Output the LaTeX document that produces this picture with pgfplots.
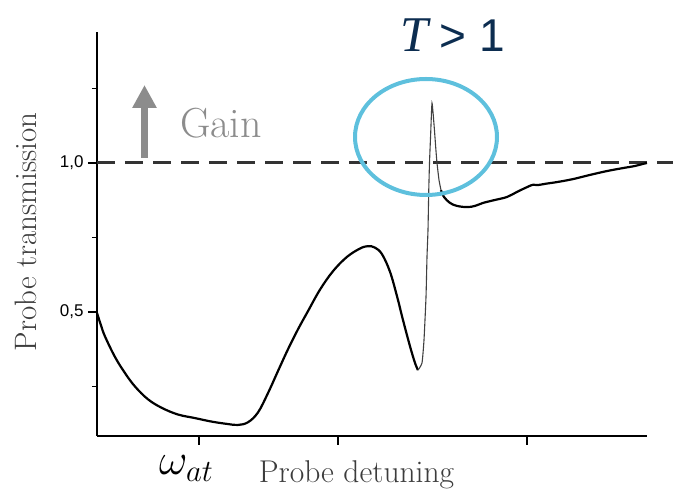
\RequirePackage{fix-cm}
\documentclass[border=0pt]{standalone}
\usepackage{pgfplots}
\pgfplotsset{compat=1.18}
\usepackage{fontspec}
\usetikzlibrary{arrows.meta}
\newfontfamily\arialf{Liberation Sans}
\newfontfamily\timesf{Liberation Serif}
\definecolor{navyT}{RGB}{12,45,80}
\definecolor{cyanC}{RGB}{94,192,221}
\definecolor{gainG}{RGB}{140,140,140}
\definecolor{labG}{RGB}{60,60,60}
\begin{document}
\begin{tikzpicture}[x=1pt,y=1pt]
\useasboundingbox (0,0) rectangle (673,498);
\begin{axis}[
  at={(97pt,62pt)}, anchor=south west,
  scale only axis, width=550pt, height=404pt,
  xmin=97, xmax=647, ymin=0.0839, ymax=1.4396,
  axis lines*=left,
  axis line style={line width=2.4pt},
  tick align=outside,
  xtick={199,338,527}, xticklabels={},
  ytick={0.5,1.0}, yticklabels={{0,5},{1,0}},
  minor ytick={0.25,0.75,1.25},
  major tick length=9pt, minor tick length=5pt,
  every tick/.style={line width=1.4pt, black},
  tick label style={font=\arialf\fontsize{17}{17}\selectfont},
  yticklabel style={xshift=-1pt},
  clip=false,
]
\addplot[dash pattern=on 18pt off 10pt, line width=3pt, color=black!80] coordinates {(97,1) (673,1)};
\addplot[line width=2.2pt, black, smooth, tension=0.6] coordinates {
(97,0.497) (101,0.455) (105,0.418) (115,0.349) (125,0.295) (135,0.250) (148,0.207) (162,0.178)
(178,0.156) (195,0.144) (212,0.132) (228,0.124) (238,0.121) (248,0.130) (258,0.163)
(268,0.228) (278,0.302) (288,0.375) (298,0.442) (308,0.503) (320,0.575) (333,0.637)
(347,0.685) (360,0.713) (368,0.721) (375,0.716) (382,0.694) (390,0.635) (397,0.553)
(403,0.473) (410,0.385) (415,0.329) (418,0.305)};
\addplot[line width=1.1pt, black!75, smooth, tension=0.3] coordinates {
(418,0.305) (422,0.329) (424,0.406) (426,0.550) (427,0.685) (428,0.775)
(428.7,0.90) (429.5,1.0) (430.7,1.10) (432,1.201) (434,1.13) (436,1.04) (437,1.0)
(439,0.943) (441,0.909)};
\addplot[line width=2.2pt, black, smooth, tension=0.6] coordinates {
(441,0.909) (444,0.886) (450,0.866) (457,0.856) (467,0.852) (475,0.856) (483,0.866)
(495,0.876) (507,0.886) (517,0.903) (527,0.919) (533,0.927) (538,0.926) (545,0.930)
(557,0.936) (573,0.946) (590,0.960) (607,0.973) (623,0.983) (635,0.990) (643,0.997)
(647,1.0)};
\end{axis}
% annotations
\draw[cyanC, line width=4pt] (426,361) ellipse [x radius=71, y radius=58];
\draw[gainG, line width=7pt, -{Triangle[length=23pt,width=23pt]}] (144.5,340) -- (144.5,413);
\node[anchor=base west, inner sep=0, text=gainG, font=\fontsize{42}{42}\selectfont] at (180,360) {Gain};
\node[anchor=base west, inner sep=0, text=navyT] at (400,446) {\fontsize{50}{50}\selectfont\timesf\itshape T\hspace{11pt}\arialf\upshape\fontsize{46}{46}\selectfont >\hspace{14pt}1};
\node[anchor=base, inner sep=0, text=labG, font=\fontsize{31.5}{31.5}\selectfont] at (356.5,15) {Probe detuning};
\node[anchor=base west, inner sep=0, text=black, font=\fontsize{44}{44}\selectfont] at (159,23) {$\omega_{at}$};
\node[anchor=base, inner sep=0, rotate=90, text=labG, font=\fontsize{31}{31}\selectfont] at (37,266) {Probe transmission};
\end{tikzpicture}
\end{document}
